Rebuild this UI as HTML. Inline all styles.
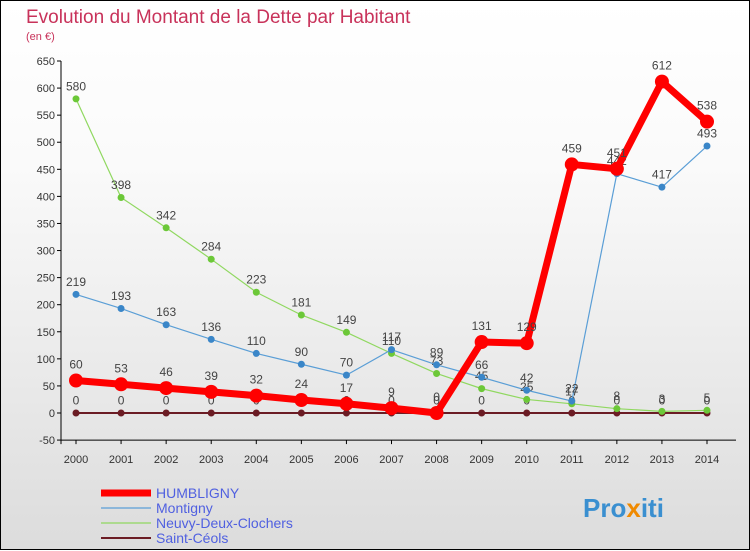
<!DOCTYPE html>
<html><head><meta charset="utf-8"><style>
body{margin:0;width:750px;height:550px;overflow:hidden;font-family:"Liberation Sans",sans-serif}
#wrap{position:relative;width:748px;height:548px;border:1px solid #000;background:linear-gradient(#fff,#fafafa 30%,#dcdcdc)}
svg{position:absolute;left:0;top:0}
</style></head><body>
<div id="wrap">
<svg id="chart" width="750" height="550">
<text x="25" y="22" font-size="19" fill="#c8325a">Evolution du Montant de la Dette par Habitant</text>
<text x="25" y="39" font-size="11" fill="#c8325a">(en €)</text>
<g id="axes"></g><g id="series"></g><g id="legend"></g>
<text x="582" y="516" font-size="26" font-weight="bold" fill="#3a8fd0">Pro<tspan fill="#f08a00">x</tspan>iti</text>
</svg></div>
<script>
const years=[2000,2001,2002,2003,2004,2005,2006,2007,2008,2009,2010,2011,2012,2013,2014];
const yTicks=[-50,0,50,100,150,200,250,300,350,400,450,500,550,600,650];
const humbligny=[60,53,46,39,32,24,17,9,0,131,129,459,451,612,538];
const montigny=[219,193,163,136,110,90,70,117,89,66,42,22,442,417,493];
const neuvy=[580,398,342,284,223,181,149,110,73,45,25,17,8,3,5];
const saintCeols=[0,0,0,0,0,0,0,0,0,0,0,0,0,0,0];
const NS="http://www.w3.org/2000/svg";
const X=i=>75+i*(706-75)/14;
const Y=v=>412-v*(352/650);
function mk(tag,at,parent,txt){const e=document.createElementNS(NS,tag);for(const k in at)e.setAttribute(k,at[k]);if(txt!==undefined)e.textContent=txt;parent.appendChild(e);return e;}
const ax=document.getElementById('axes');
let a=mk('line',{x1:60,y1:Y(650),x2:60,y2:Y(-50)+4,stroke:'#000'},ax);

a=mk('line',{x1:60,y1:Y(-50),x2:735,y2:Y(-50),stroke:'#000'},ax);

yTicks.forEach(t=>{mk('line',{x1:56,y1:Y(t),x2:60,y2:Y(t),stroke:'#000'},ax);
 const l=mk('text',{x:54,y:Y(t)+4,'font-size':11,'text-anchor':'end',fill:'#333'},ax,t);
 });
years.forEach((y,i)=>{mk('line',{x1:X(i),y1:Y(-50),x2:X(i),y2:Y(-50)+4,stroke:'#000'},ax);
 const l=mk('text',{x:X(i),y:462,'font-size':11,'text-anchor':'middle',fill:'#333'},ax,y);
 });
const sg=document.getElementById('series');
const series=[
 {name:'saint-ceols',label:'Saint-Céols',data:saintCeols,color:'#6b1c24',w:2,r:3.5},
 {name:'neuvy-deux-clochers',label:'Neuvy-Deux-Clochers',data:neuvy,color:'#90d860',w:1.2,r:3.5,dot:'#6cc838'},
 {name:'montigny',label:'Montigny',data:montigny,color:'#5a9ed6',w:1.2,r:3.5,dot:'#3a86c8'},
 {name:'humbligny',label:'HUMBLIGNY',data:humbligny,color:'#f00',w:7,r:7}];
series.forEach(s=>{
 const g=mk('g',{},sg);
 const p=mk('polyline',{points:s.data.map((v,i)=>X(i)+','+Y(v)).join(' '),fill:'none',stroke:s.color,'stroke-width':s.w,'stroke-linejoin':'round'},g);
 
 s.data.forEach((v,i)=>{const c=mk('circle',{cx:X(i),cy:Y(v),r:s.r,fill:s.dot||s.color},g);
  
  const t=mk('text',{x:X(i),y:Y(v)-(s.r+5),'font-size':12,'text-anchor':'middle',fill:'#444'},g,v);
  });
});
const lg=document.getElementById('legend');
[series[3],series[2],series[1],series[0]].forEach((s,k)=>{const y=492+k*15;
 const l=mk('line',{x1:100,y1:y,x2:150,y2:y,stroke:s.color,'stroke-width':s.w},lg);
 
 const t=mk('text',{x:155,y:y+5,'font-size':14,fill:'#5060e0'},lg,s.label);
 });
</script>
</body></html>
